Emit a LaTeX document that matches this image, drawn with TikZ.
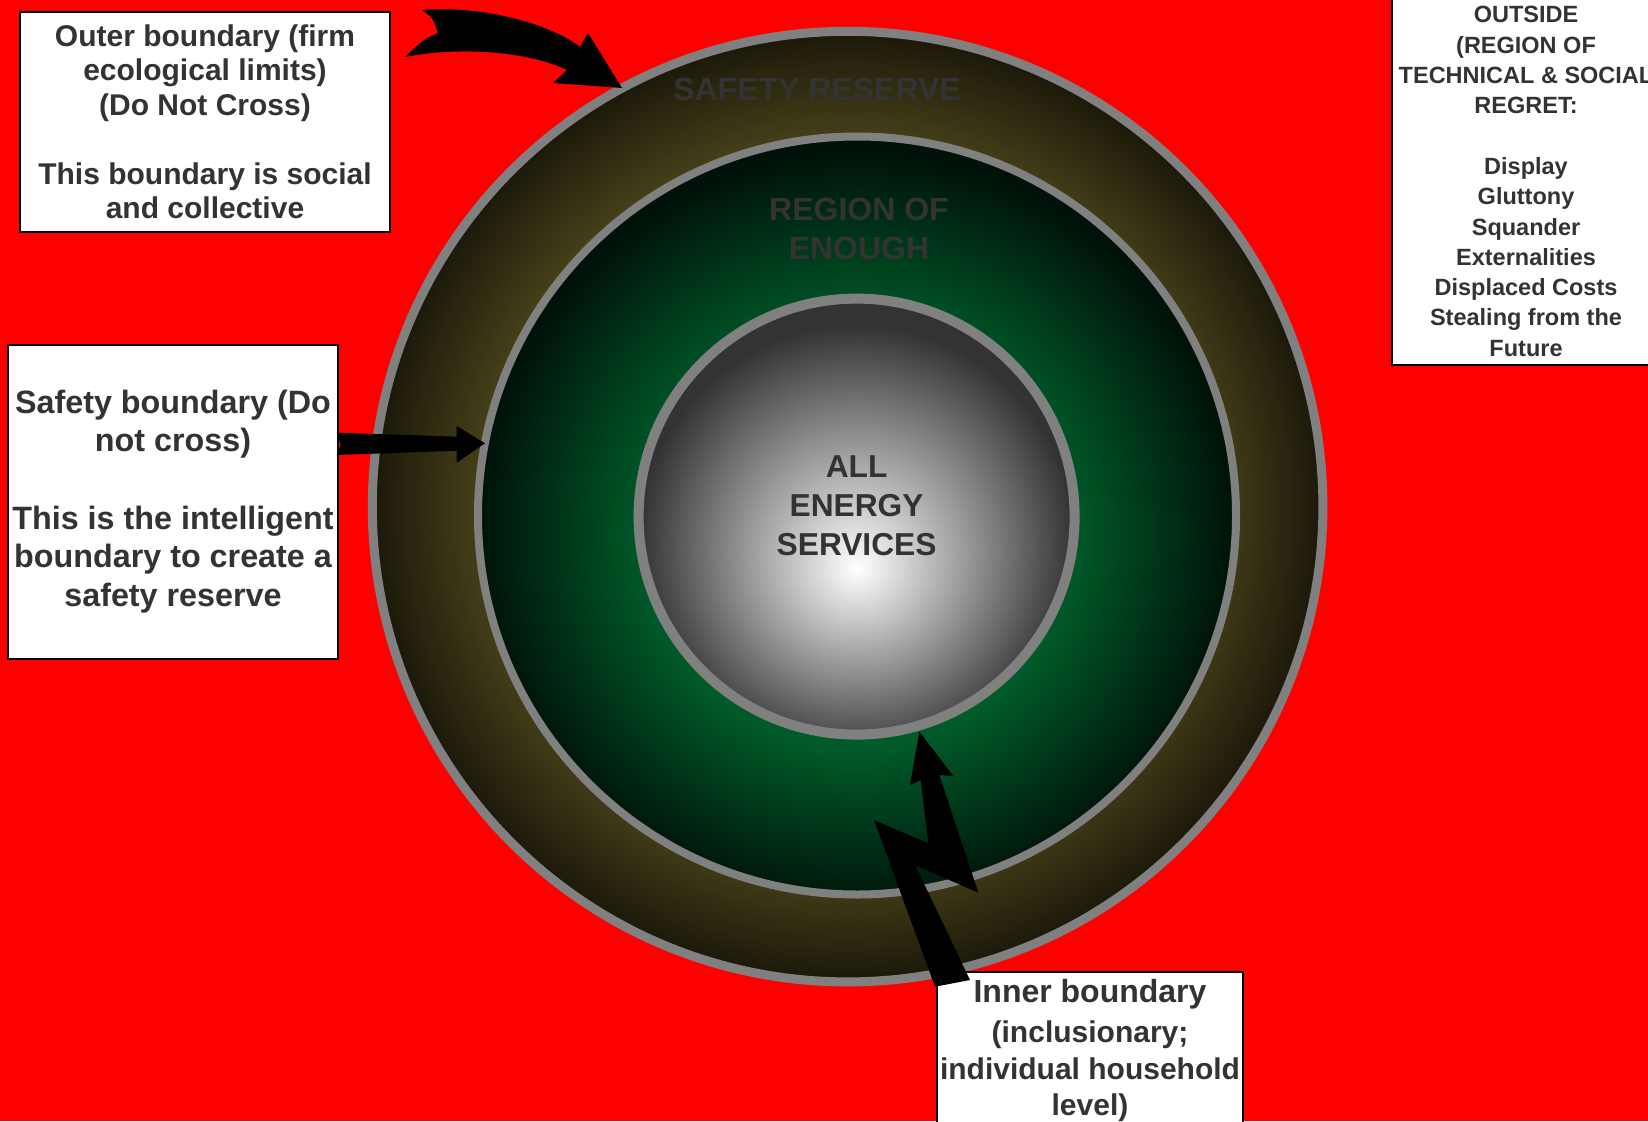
\documentclass[tikz,border=0pt]{standalone}
\usepackage{fontspec}
\setmainfont{Liberation Sans}
\definecolor{txt}{HTML}{333333}
\definecolor{ringA}{HTML}{4F4A1C}
\definecolor{ringB}{HTML}{1C180A}
\definecolor{grnA}{HTML}{006630}
\definecolor{grnB}{HTML}{005A29}
\definecolor{grnC}{HTML}{001209}
\definecolor{gryA}{HTML}{FFFFFF}
\definecolor{gryB}{HTML}{333333}
\definecolor{edgegray}{HTML}{808080}
\definecolor{bgred}{HTML}{FF0000}
\pgfdeclareradialshading{ringshade}{\pgfpoint{0bp}{0bp}}{color(0bp)=(ringA); color(18bp)=(ringA); color(25bp)=(ringB); color(50bp)=(ringB)}
\pgfdeclareradialshading{greenshade}{\pgfpoint{0bp}{-2bp}}{color(0bp)=(grnA); color(14bp)=(grnB); color(25bp)=(grnC); color(50bp)=(grnC)}
\pgfdeclareradialshading{grayshade}{\pgfpoint{0bp}{-6bp}}{color(0bp)=(gryA); color(25bp)=(gryB); color(50bp)=(gryB)}
\begin{document}
\begin{tikzpicture}[x=1pt,y=-1pt,
  box/.style={draw=black, line width=2pt, fill=white, text=txt, align=center, inner sep=0pt},
  ringline/.style={draw=edgegray},
  lbl/.style={text=txt, align=center, inner sep=0pt},
  fatarrow/.style={fill=black}]
\useasboundingbox (0,0) rectangle (1648,1121);
\fill[bgred] (0,0) rectangle (1648,1121);
% circles
\coordinate (oc) at (847.6,506.6);
\coordinate (mc) at (857,515.5);
\coordinate (ic) at (856.6,516.6);
\path[ringline, line width=9pt, shading=ringshade] (oc) circle[radius=475.3pt];
\path[ringline, line width=8pt, shading=greenshade] (mc) circle[radius=379pt];
\path[ringline, line width=10pt, shading=grayshade] (ic) circle[radius=218pt];
% region labels
\node[lbl, font=\bfseries\fontsize{32}{39}\selectfont] (sr) at (817,89) {SAFETY RESERVE};
\node[lbl, font=\bfseries\fontsize{32}{39}\selectfont] (roe) at (859,229) {REGION OF\\ENOUGH};
\node[lbl, font=\bfseries\fontsize{31.7}{38.9}\selectfont] (aes) at (856.6,505.5) {ALL\\ENERGY\\SERVICES};
% boxes
\node[box, minimum width=370pt, minimum height=220pt, font=\bfseries\fontsize{30}{34.5}\selectfont] (obox) at (205,122)
  {Outer boundary (firm\\ecological limits)\\(Do Not Cross)\\[34.5pt]This boundary is social\\and collective};
\node[box, minimum width=330pt, minimum height=314pt, font=\bfseries\fontsize{32.3}{38.7}\selectfont] (sbox) at (173,501.5)
  {Safety boundary (Do\\not cross)\\[38.7pt]This is the intelligent\\boundary to create a\\safety reserve};
\node[box, minimum width=268pt, minimum height=367pt, font=\bfseries\fontsize{23.5}{30.3}\selectfont] (obox2) at (1526,181.5)
  {OUTSIDE\\(REGION OF\\TECHNICAL \& SOCIAL\\REGRET:\\[30.3pt]Display\\Gluttony\\Squander\\Externalities\\Displaced Costs\\Stealing from the\\Future};
\node[box, minimum width=306pt, minimum height=158pt, font=\bfseries\fontsize{30}{36}\selectfont] (ibox) at (1090,1051)
  {{\fontsize{32}{36}\selectfont Inner boundary}\\[4pt](inclusionary;\\[1pt]individual household\\level)};
% curved arrow to outer boundary
\fill[fatarrow] (422,10) .. controls (433,18) .. (438,33) .. controls (423,40) .. (405,57)
  .. controls (455,47) and (525,50) .. (567,70) -- (553,83) -- (622,88) -- (588,33) -- (580,47)
  .. controls (555,27) and (490,5) .. (422,10) -- cycle;
% straight arrow to safety boundary
\fill[fatarrow] (336.7,432.7) -- (456.7,436.7) -- (456.7,426) -- (485,443.3) -- (456.7,462.7)
  -- (456.7,450.7) -- (336.7,455) -- (340.7,445) -- cycle;
% lightning arrow to inner boundary
\fill[fatarrow] (919.3,731.7) -- (953.3,776) -- (939.3,775) -- (978.3,892.7) -- (915,865)
  -- (970,980) -- (935,986.7) -- (874,820) -- (928.3,843.3) -- (920.7,780) -- (910,785) -- cycle;
\end{tikzpicture}
\end{document}
